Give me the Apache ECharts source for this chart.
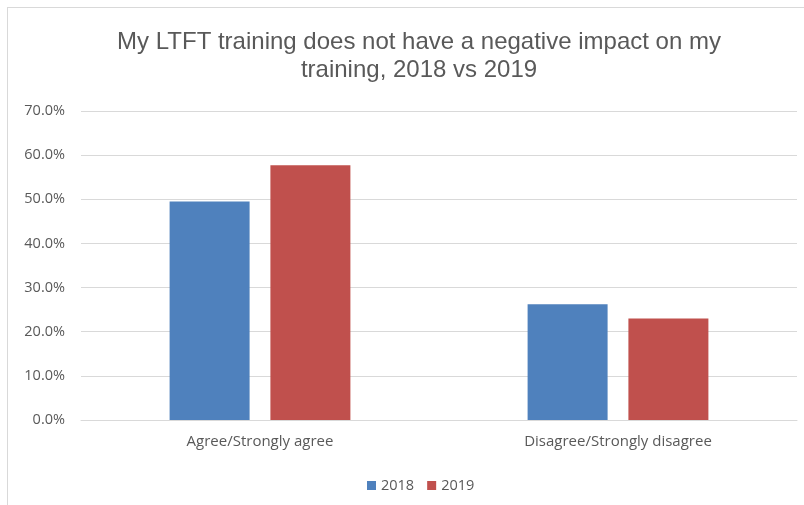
<!DOCTYPE html>
<html>
<head>
<meta charset="utf-8">
<script src="https://cdn.jsdelivr.net/npm/echarts@6/dist/echarts.min.js"></script>
<style>
html, body { margin: 0; padding: 0; background: #fff; }
#chart_box {
  position: absolute; left: 7px; top: 7px; width: 797px; height: 498px;
  border-left: 1px solid #d9d9d9; border-top: 1px solid #d9d9d9;
}
#chart { position: absolute; left: 0; top: 0; width: 804px; height: 505px; }
</style>
</head>
<body>
<div id="chart_box"></div>
<div id="chart"></div>
<script>
var categories = ['Agree/Strongly agree', 'Disagree/Strongly disagree'];
var seriesNames = ['2018', '2019'];
var values2018 = [49.5, 26.2];
var values2019 = [57.7, 23.0];
var yTicks = [0, 10, 20, 30, 40, 50, 60, 70];

var chart = echarts.init(document.getElementById('chart'));
chart.setOption({
  animation: false,
  textStyle: { fontFamily: 'Open Sans, sans-serif' },
  title: {
    text: 'My LTFT training does not have a negative impact on my\ntraining, 2018 vs 2019',
    left: 414,
    textAlign: 'center',
    top: 23,
    textStyle: {
      fontSize: 24,
      fontWeight: 'normal',
      color: '#595959',
      lineHeight: 28,
      fontFamily: 'Liberation Sans, sans-serif'
    }
  },
  legend: {
    data: seriesNames,
    left: 362,
    top: 473,
    itemWidth: 9,
    itemHeight: 9,
    itemGap: 13,
    icon: 'rect',
    textStyle: { fontSize: 14.5, color: '#595959' }
  },
  grid: { left: 81, right: 7, top: 111, bottom: 85 },
  xAxis: {
    type: 'category',
    data: categories,
    axisLine: { lineStyle: { color: '#d9d9d9' } },
    axisTick: { show: false },
    axisLabel: { fontSize: 15, color: '#595959', margin: 14 }
  },
  yAxis: {
    type: 'value',
    min: yTicks[0],
    max: yTicks[yTicks.length - 1],
    interval: 10,
    axisLine: { show: false },
    axisTick: { show: false },
    splitLine: { lineStyle: { color: '#d9d9d9' } },
    axisLabel: {
      fontSize: 14.5, color: '#595959', margin: 16,
      formatter: function (v) { return v.toFixed(1) + '%'; }
    }
  },
  series: [
    {
      name: seriesNames[0], type: 'bar', data: values2018,
      barWidth: 80, barGap: '26%',
      itemStyle: { color: '#4f81bd' }
    },
    {
      name: seriesNames[1], type: 'bar', data: values2019,
      barWidth: 80, barGap: '26%',
      itemStyle: { color: '#c0504d' }
    }
  ]
});
</script>
</body>
</html>
